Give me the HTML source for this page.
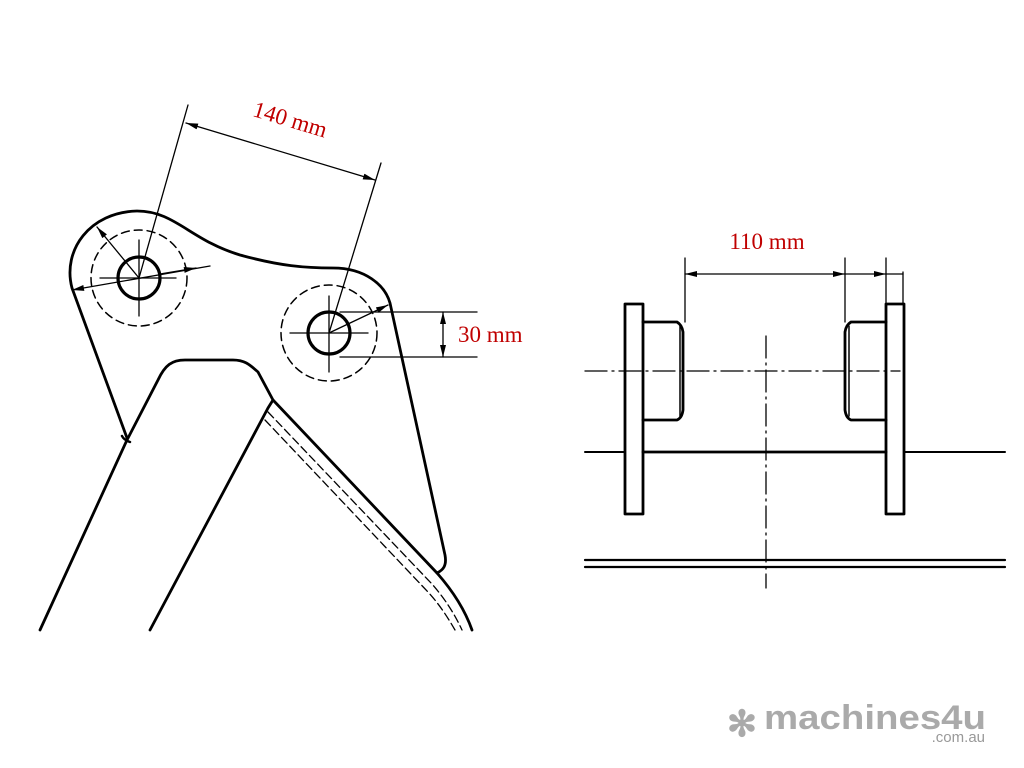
<!DOCTYPE html>
<html><head><meta charset="utf-8"><style>
html,body{margin:0;padding:0;background:#fff;}
svg{display:block;}
</style></head><body>
<svg width="1024" height="768" viewBox="0 0 1024 768" xmlns="http://www.w3.org/2000/svg">
<defs>
<marker id="a" viewBox="0 0 12 6" refX="12" refY="3" markerWidth="13" markerHeight="6" orient="auto" markerUnits="userSpaceOnUse">
<path d="M0,0 L12,3 L0,6 z" fill="#000"/></marker>
<marker id="b" viewBox="0 0 12 6" refX="0" refY="3" markerWidth="13" markerHeight="6" orient="auto" markerUnits="userSpaceOnUse">
<path d="M12,0 L0,3 L12,6 z" fill="#000"/></marker>
</defs>
<g fill="none" stroke="#000" stroke-linecap="round" stroke-linejoin="round">
<path d="M127,438 L72,288 C62,250 90,212 137,211 C175,211 190,240 240,255 C280,266 305,268 333,268 C365,268 385,285 390,303 L445,555 C447,566 443,570 437,573" stroke-width="2.8"/>
<path d="M122,436 Q124,440 130,442" stroke-width="2.5"/>
<path d="M40,630 L127,440 L158,380 C165,365 172,360 185,360 L233,360 C245,360 250,365 258,372 L273,400 L437,573 C452,590 465,610 472,630" stroke-width="2.8"/>
<path d="M150,630 L268,408 L273,400" stroke-width="2.8"/>
<path d="M268,412 L432,584 C446,600 455,615 462,630" stroke-width="1.3" stroke-dasharray="8,4"/>
<path d="M265,420 L428,592 C440,605 448,618 455,630" stroke-width="1.3" stroke-dasharray="8,4"/>
<circle cx="139" cy="278" r="21" stroke-width="3.2"/>
<circle cx="139" cy="278" r="48" stroke-width="1.5" stroke-dasharray="8,5"/>
<circle cx="329" cy="333" r="21" stroke-width="3.2"/>
<circle cx="329" cy="333" r="48" stroke-width="1.5" stroke-dasharray="8,5"/>
<g stroke-width="1.3">
<line x1="100" y1="278" x2="176" y2="278"/><line x1="139" y1="240" x2="139" y2="316"/>
<line x1="290" y1="333" x2="368" y2="333"/><line x1="329" y1="296" x2="329" y2="372"/>
<line x1="139" y1="278" x2="188" y2="105"/>
<line x1="329" y1="333" x2="381" y2="163"/>
<line x1="186" y1="123" x2="375" y2="180" marker-start="url(#b)" marker-end="url(#a)"/>
<line x1="139" y1="278" x2="97" y2="227" marker-end="url(#a)"/>
<line x1="72" y1="290" x2="210" y2="266" marker-start="url(#b)"/>
<line x1="160" y1="274" x2="196" y2="268" marker-end="url(#a)"/>
<line x1="329" y1="333" x2="388" y2="305" marker-end="url(#a)"/>
<line x1="340" y1="312" x2="477" y2="312"/>
<line x1="340" y1="357" x2="477" y2="357"/>
<line x1="443" y1="312" x2="443" y2="357" marker-start="url(#b)" marker-end="url(#a)"/>
</g>
<g stroke-width="2.8">
<rect x="625" y="304" width="18" height="210"/>
<rect x="886" y="304" width="18" height="210"/>
<path d="M643,322 L677,322 Q682,325 683,332 L683,410 Q682,418 677,420 L643,420"/>
<line x1="680" y1="326" x2="680" y2="416" stroke-width="1.5"/>
<path d="M886,322 L851,322 Q846,325 845,332 L845,410 Q846,418 851,420 L886,420"/>
<line x1="849" y1="326" x2="849" y2="416" stroke-width="1.5"/>
<line x1="585" y1="452" x2="625" y2="452" stroke-width="2"/>
<line x1="643" y1="452" x2="886" y2="452"/>
<line x1="904" y1="452" x2="1005" y2="452" stroke-width="2"/>
<line x1="585" y1="560" x2="1005" y2="560" stroke-width="2.2"/>
<line x1="585" y1="567" x2="1005" y2="567" stroke-width="2.2"/>
</g>
<g stroke-width="1.3">
<line x1="585" y1="371" x2="900" y2="371" stroke-dasharray="22,5,2,5"/>
<line x1="766" y1="336" x2="766" y2="588" stroke-dasharray="22,5,2,5"/>
<line x1="685" y1="258" x2="685" y2="322"/>
<line x1="845" y1="258" x2="845" y2="322"/>
<line x1="886" y1="258" x2="886" y2="304"/>
<line x1="903" y1="272" x2="903" y2="304"/>
<line x1="685" y1="274" x2="845" y2="274" marker-start="url(#b)" marker-end="url(#a)"/>
<line x1="845" y1="274" x2="886" y2="274" marker-end="url(#a)"/>
<line x1="886" y1="274" x2="903" y2="274"/>
</g>
</g>
<g font-family="Liberation Serif, serif" font-size="23" fill="#c00000">
<text x="290" y="127" text-anchor="middle" transform="rotate(16.8 290 120)">140 mm</text>
<text x="458" y="342">30 mm</text>
<text x="767" y="249" text-anchor="middle">110 mm</text>
</g>
<g fill="#aaa" font-family="Liberation Sans, sans-serif" font-weight="bold">
<text x="742" y="736" font-size="36" text-anchor="middle">✻</text>
<text x="764" y="729" font-size="34" textLength="222" lengthAdjust="spacingAndGlyphs">machines4u</text>
<text x="985" y="742" font-size="15" font-weight="normal" text-anchor="end" fill="#999">.com.au</text>
</g>
</svg>
</body></html>
